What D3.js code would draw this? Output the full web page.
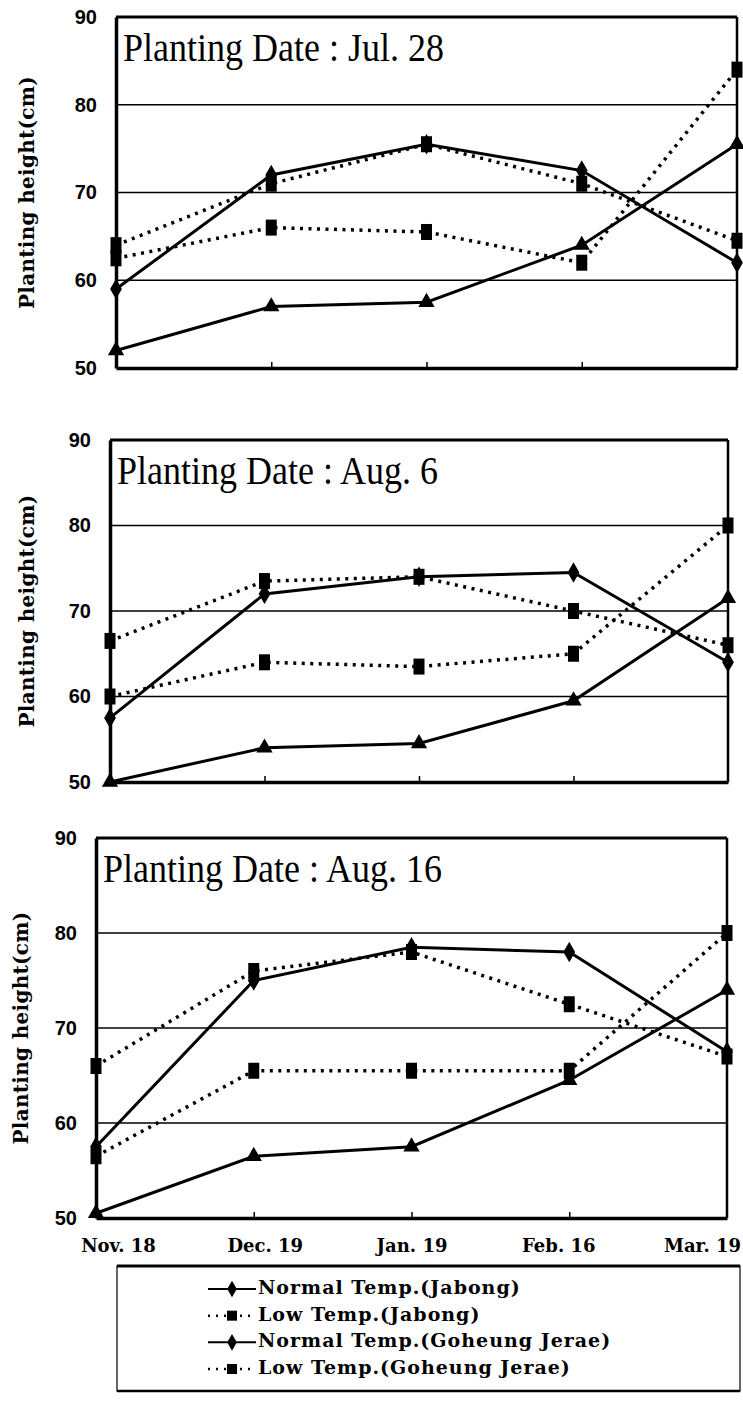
<!DOCTYPE html>
<html><head><meta charset="utf-8">
<script src="https://cdn.jsdelivr.net/npm/d3@7"></script>
<style>html,body{margin:0;padding:0;background:#fff;}svg{display:block;}</style>
</head><body>
<script>
// ---------- data ----------
const categories = ["Nov. 18", "Dec. 19", "Jan. 19", "Feb. 16", "Mar. 19"];
const panelTitles = ["Planting Date : Jul. 28", "Planting Date : Aug. 6", "Planting Date : Aug. 16"];
const seriesNames = ["Normal Temp.(Jabong)", "Low Temp.(Jabong)", "Normal Temp.(Goheung Jerae)", "Low Temp.(Goheung Jerae)"];
const yTicks = [50, 60, 70, 80, 90];
const gridValues = [60, 70, 80];

// Jul. 28
const normalJabong1 = [59, 72, 75.5, 72.5, 62];
const lowJabong1 = [64, 71, 75.5, 71, 64.5];
const normalGoheung1 = [52, 57, 57.5, 64, 75.5];
const lowGoheung1 = [62.5, 66, 65.5, 62, 84];
// Aug. 6
const normalJabong2 = [57.5, 72, 74, 74.5, 64];
const lowJabong2 = [66.5, 73.5, 74, 70, 66];
const normalGoheung2 = [50, 54, 54.5, 59.5, 71.5];
const lowGoheung2 = [60, 64, 63.5, 65, 80];
// Aug. 16
const normalJabong3 = [57.5, 75, 78.5, 78, 67.5];
const lowJabong3 = [66, 76, 78, 72.5, 67];
const normalGoheung3 = [50.5, 56.5, 57.5, 64.5, 74];
const lowGoheung3 = [56.5, 65.5, 65.5, 65.5, 80];

const panelData = [
  [normalJabong1, lowJabong1, normalGoheung1, lowGoheung1],
  [normalJabong2, lowJabong2, normalGoheung2, lowGoheung2],
  [normalJabong3, lowJabong3, normalGoheung3, lowGoheung3]
];

// ---------- styles / layout ----------
const W = 743, H = 1401;
const seriesStyle = [
  {dash: null, symbol: d3.symbolDiamond, size: 120},
  {dash: "3,5.5", rect: true},
  {dash: null, symbol: d3.symbolTriangle, size: 115},
  {dash: "3,5.5", rect: true}
];
const layout = [
  {top: 17, bottom: 368, left: 116, right: 737, titleX: 28},
  {top: 440, bottom: 782, left: 110, right: 728, titleX: 28},
  {top: 838, bottom: 1218, left: 96, right: 727, titleX: 22}
];

const svg = d3.select("body").append("svg").attr("width", W).attr("height", H);

const serifBold = "'DejaVu Serif', serif";
const sansBold = "'Liberation Sans', Arial, sans-serif";

function drawMarker(g, style, x, y) {
  if (style.rect) {
    g.append("rect").attr("x", x - 5.5).attr("y", y - 8).attr("width", 11).attr("height", 16).attr("fill", "#000");
  } else {
    g.append("path").attr("d", d3.symbol().type(style.symbol).size(style.size)())
      .attr("transform", `translate(${x},${y})`).attr("fill", "#000");
  }
}

layout.forEach((L, pi) => {
  const g = svg.append("g");
  const x = d3.scalePoint().domain(categories).range([L.left, L.right]);
  const y = d3.scaleLinear().domain([50, 90]).range([L.bottom, L.top]);

  // gridlines
  g.selectAll(".grid").data(gridValues).join("line")
    .attr("x1", L.left).attr("x2", L.right)
    .attr("y1", d => y(d)).attr("y2", d => y(d))
    .attr("stroke", "#000").attr("stroke-width", 1.7);

  // frame
  g.append("line").attr("x1", L.left).attr("x2", L.right).attr("y1", y(90)).attr("y2", y(90)).attr("stroke", "#000").attr("stroke-width", 3);
  g.append("line").attr("x1", L.right).attr("x2", L.right).attr("y1", y(90)).attr("y2", y(50)).attr("stroke", "#000").attr("stroke-width", 2.5);

  // y axis
  const yAxis = d3.axisLeft(y).tickValues(yTicks).tickSize(0).tickPadding(19).tickFormat(d3.format("d"));
  const ya = g.append("g").attr("transform", `translate(${L.left},0)`).call(yAxis);
  ya.select(".domain").attr("stroke", "#000").attr("stroke-width", 3.5);
  ya.selectAll("text").attr("font-family", sansBold).attr("font-weight", "bold").attr("font-size", 20).attr("fill", "#000");

  // x axis
  const xAxis = d3.axisBottom(x).tickSizeInner(-6).tickSizeOuter(0).tickFormat(pi === 2 ? (d => d) : (() => ""));
  const xa = g.append("g").attr("transform", `translate(0,${L.bottom})`).call(xAxis);
  xa.select(".domain").attr("stroke", "#000").attr("stroke-width", 3.5);
  xa.selectAll(".tick line").attr("stroke", "#000").attr("stroke-width", 1.5);
  xa.selectAll(".tick").filter((d, i) => i === 0 || i === categories.length - 1).select("line").remove();
  if (pi === 2) {
    xa.selectAll("text")
      .attr("font-family", serifBold).attr("font-weight", "bold").attr("font-size", 18).attr("fill", "#000")
      .attr("y", 34).attr("dy", 0)
      .attr("dx", (d, i) => (2 - i) * 11)
      .each(function () {
        // keep labels inside the page
        const b = this.getBoundingClientRect();
        if (b.right > W - 2) d3.select(this).attr("dx", +d3.select(this).attr("dx") - (b.right - (W - 2)));
      });
  }

  // y title
  g.append("text")
    .attr("transform", `translate(${L.titleX},${(L.top + L.bottom) / 2}) rotate(-90)`)
    .attr("text-anchor", "middle").attr("dominant-baseline", "middle")
    .attr("font-family", serifBold).attr("font-weight", "bold").attr("font-size", 20)
    .attr("letter-spacing", 0.3)
    .text("Planting height(cm)");

  // panel title
  g.append("text")
    .attr("transform", `translate(${L.left + 7},${L.top + 44}) scale(1,1.12)`)
    .attr("font-family", "'Liberation Serif', 'Times New Roman', serif").attr("font-size", 36)
    .text(panelTitles[pi]);

  // series
  panelData[pi].forEach((vals, si) => {
    const st = seriesStyle[si];
    const line = d3.line().x((d, i) => x(categories[i])).y(d => y(d));
    g.append("path").datum(vals).attr("d", line).attr("fill", "none").attr("stroke", "#000")
      .attr("stroke-width", st.dash ? 3.5 : 3).attr("stroke-dasharray", st.dash);
    vals.forEach((v, i) => drawMarker(g, st, x(categories[i]), y(v)));
  });
});

// ---------- legend ----------
const leg = svg.append("g");
const LB = {left: 117, right: 740, top: 1266, bottom: 1391};
leg.append("rect").attr("x", LB.left).attr("y", LB.top).attr("width", LB.right - LB.left).attr("height", LB.bottom - LB.top)
  .attr("fill", "none").attr("stroke", "#000").attr("stroke-width", 1.2);
leg.append("line").attr("x1", LB.left).attr("x2", LB.right).attr("y1", LB.top).attr("y2", LB.top).attr("stroke", "#000").attr("stroke-width", 3);
leg.append("line").attr("x1", LB.left).attr("x2", LB.right).attr("y1", LB.bottom).attr("y2", LB.bottom).attr("stroke", "#000").attr("stroke-width", 2.5);
const legY = d3.scalePoint().domain(seriesNames).range([1289, 1369]);
seriesNames.forEach((name, si) => {
  const st = seriesStyle[si];
  const cy = legY(name);
  leg.append("line").attr("x1", 208).attr("x2", 256).attr("y1", cy).attr("y2", cy)
    .attr("stroke", "#000").attr("stroke-width", st.dash ? 2.5 : 2).attr("stroke-dasharray", st.dash ? "2,6" : null);
  if (st.rect) {
    leg.append("rect").attr("x", 227).attr("y", cy - 5).attr("width", 10).attr("height", 10).attr("fill", "#000");
  } else {
    leg.append("path").attr("d", d3.symbol().type(d3.symbolDiamond).size(80)())
      .attr("transform", `translate(232,${cy})`).attr("fill", "#000");
  }
  leg.append("text").attr("x", 258).attr("y", cy).attr("dominant-baseline", "middle")
    .attr("font-family", serifBold).attr("font-weight", "bold").attr("font-size", 19).attr("letter-spacing", 1)
    .text(name);
});
</script>
</body></html>
